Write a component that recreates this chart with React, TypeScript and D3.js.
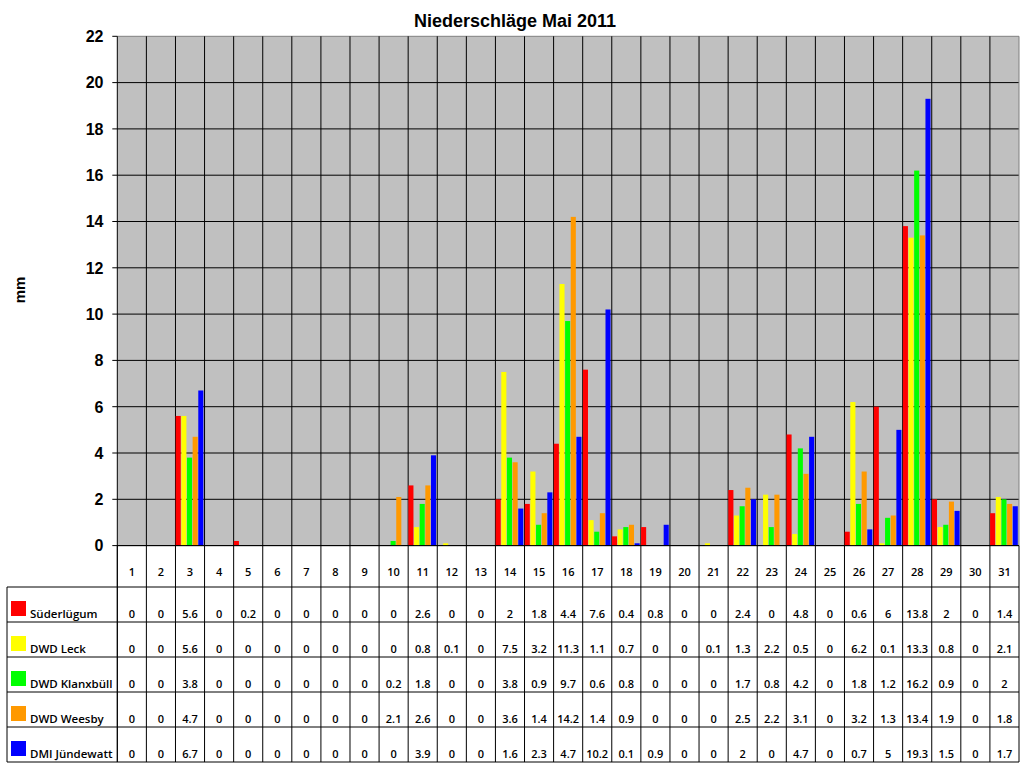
import React from "react";
import * as d3 from "d3";

const title = "Niederschläge Mai 2011";
const yLabel = "mm";
const days = d3.range(1, 32).map(String);
const seriesNames = ["Süderlügum", "DWD Leck", "DWD Klanxbüll", "DWD Weesby", "DMI Jündewatt"];
const seriesColors = ["#FF0000", "#FFFF00", "#00FF00", "#FF9900", "#0000FF"];

const suederluegum = [0, 0, 5.6, 0, 0.2, 0, 0, 0, 0, 0, 2.6, 0, 0, 2, 1.8, 4.4, 7.6, 0.4, 0.8, 0, 0, 2.4, 0, 4.8, 0, 0.6, 6, 13.8, 2, 0, 1.4];
const dwdLeck = [0, 0, 5.6, 0, 0, 0, 0, 0, 0, 0, 0.8, 0.1, 0, 7.5, 3.2, 11.3, 1.1, 0.7, 0, 0, 0.1, 1.3, 2.2, 0.5, 0, 6.2, 0.1, 13.3, 0.8, 0, 2.1];
const dwdKlanxbuell = [0, 0, 3.8, 0, 0, 0, 0, 0, 0, 0.2, 1.8, 0, 0, 3.8, 0.9, 9.7, 0.6, 0.8, 0, 0, 0, 1.7, 0.8, 4.2, 0, 1.8, 1.2, 16.2, 0.9, 0, 2];
const dwdWeesby = [0, 0, 4.7, 0, 0, 0, 0, 0, 0, 2.1, 2.6, 0, 0, 3.6, 1.4, 14.2, 1.4, 0.9, 0, 0, 0, 2.5, 2.2, 3.1, 0, 3.2, 1.3, 13.4, 1.9, 0, 1.8];
const dmiJuendewatt = [0, 0, 6.7, 0, 0, 0, 0, 0, 0, 0, 3.9, 0, 0, 1.6, 2.3, 4.7, 10.2, 0.1, 0.9, 0, 0, 2, 0, 4.7, 0, 0.7, 5, 19.3, 1.5, 0, 1.7];
const seriesValues = [suederluegum, dwdLeck, dwdKlanxbuell, dwdWeesby, dmiJuendewatt];
const yTicks = d3.range(0, 23, 2);

export default function App() {
  const W = 1024, H = 768;
  const plotL = 117.3, plotR = 1019, plotT = 36.3, plotB = 545.6;
  const tableL = 7, tableT = 587, tableB = 762;

  const x = d3.scaleBand<string>().domain(days).range([plotL, plotR]).padding(0);
  const bw = x.bandwidth();
  const xs = d3.scaleBand<number>().domain(d3.range(seriesNames.length)).range([0.2, bw - 1.2]).paddingInner(0.1);
  const y = d3.scaleLinear().domain([0, 22]).range([plotB, plotT]);
  const row = d3.scaleBand<number>().domain(d3.range(seriesNames.length)).range([tableT, tableB]);

  const numFont = "'Open Sans', 'Noto Sans', sans-serif";
  const fmt = (v: number) => String(v);

  return (
    <svg width={W} height={H} style={{ position: "absolute", left: 0, top: 0, background: "#fff" }}
      xmlns="http://www.w3.org/2000/svg">
      <text x={515} y={26.5} textAnchor="middle" fontFamily="'Liberation Sans', Arial, sans-serif"
        fontWeight="bold" fontSize={18} fill="#000">{title}</text>

      {/* plot background */}
      <rect x={plotL} y={plotT} width={plotR - plotL} height={plotB - plotT} fill="#C0C0C0" />

      {/* horizontal grid */}
      {yTicks.map((t) => (
        <line key={"g" + t} x1={plotL} x2={plotR} y1={y(t)} y2={y(t)}
          stroke={t === 22 ? "#808080" : "#000"} strokeWidth={1} />
      ))}
      {/* border right */}
      <line x1={plotR} x2={plotR} y1={plotT} y2={plotB} stroke="#808080" strokeWidth={1} />

      {/* vertical separators across plot and header row */}
      {days.map((d) => (
        <line key={"v" + d} x1={x(d)!} x2={x(d)!} y1={plotT} y2={tableB} stroke="#000" strokeWidth={1} />
      ))}

      {/* bars */}
      {seriesValues.map((vals, si) =>
        vals.map((v, di) =>
          v > 0 ? (
            <rect key={`b${si}-${di}`} x={x(days[di])! + xs(si)!} y={y(v)} width={xs.bandwidth()}
              height={plotB - y(v)} fill={seriesColors[si]} />
          ) : null
        )
      )}

      {/* y axis ticks */}
      {yTicks.map((t) => (
        <g key={"t" + t}>
          <line x1={plotL - 5} x2={plotL} y1={y(t)} y2={y(t)} stroke="#000" />
          <text x={103.5} y={y(t) + 5.8} textAnchor="end" fontFamily="'Liberation Sans', Arial, sans-serif"
            fontWeight="bold" fontSize={16} fill="#000">{t}</text>
        </g>
      ))}
      <text transform={`translate(25,290) rotate(-90)`} textAnchor="middle"
        fontFamily="'Liberation Sans', Arial, sans-serif" fontWeight="bold" fontSize={15} fill="#000">{yLabel}</text>

      {/* x axis line */}
      <line x1={plotL} x2={plotR} y1={plotB} y2={plotB} stroke="#000" />

      {/* header day labels */}
      {days.map((d) => (
        <text key={"d" + d} x={x(d)! + bw / 2} y={575.5} textAnchor="middle" fontFamily={numFont}
          fontWeight={600} fontSize={11} fill="#000">{d}</text>
      ))}

      {/* table grid */}
      <line x1={plotL} x2={plotL} y1={plotB} y2={tableB} stroke="#000" />
      <line x1={plotR} x2={plotR} y1={plotB} y2={tableB} stroke="#000" />
      <line x1={tableL} x2={tableL} y1={tableT} y2={tableB} stroke="#000" />
      {d3.range(seriesNames.length + 1).map((i) => {
        const yy = i < seriesNames.length ? row(i)! : tableB;
        return <line key={"h" + i} x1={tableL} x2={plotR} y1={yy} y2={yy} stroke="#000" />;
      })}

      {/* legend + values */}
      {seriesNames.map((name, si) => {
        const top = row(si)!;
        return (
          <g key={"r" + si}>
            <rect x={11} y={top + 14} width={15} height={15} fill={seriesColors[si]} />
            <text x={30} y={top + 31} fontFamily={numFont} fontWeight={600} fontSize={11.5} fill="#000">{name}</text>
            {seriesValues[si].map((v, di) => (
              <text key={"c" + di} x={x(days[di])! + bw / 2} y={top + 31} textAnchor="middle"
                fontFamily={numFont} fontWeight={600} fontSize={11} fill="#000">{fmt(v)}</text>
            ))}
          </g>
        );
      })}
    </svg>
  );
}
